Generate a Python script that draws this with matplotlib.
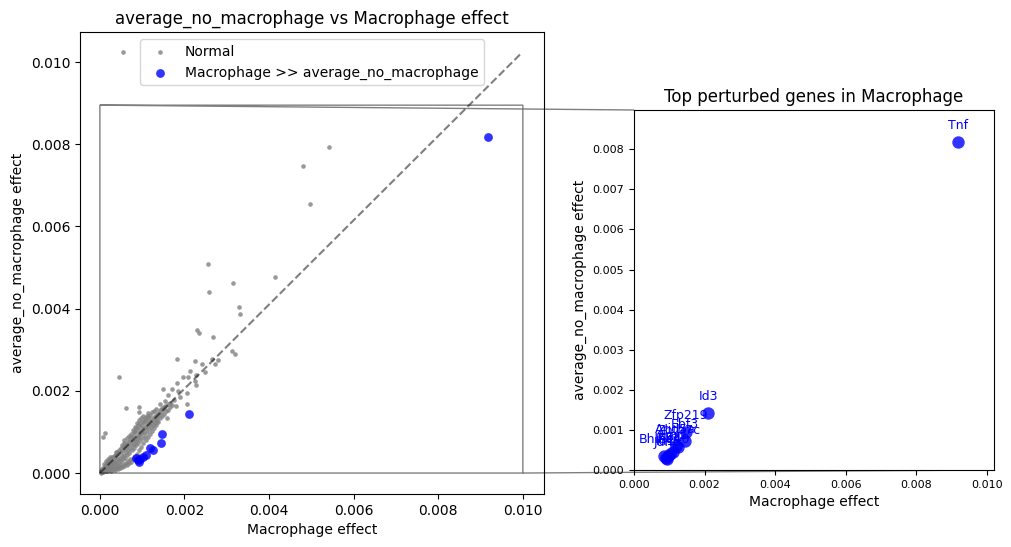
import numpy as np
import matplotlib
matplotlib.use("Agg")
import matplotlib.pyplot as plt

# genes where Macrophage effect >> average of the other cell types
hit_genes = ["Tnf", "Id3", "Zfp219", "Ebf3", "Zbtb7c", "Arid5a", "Egr2",
             "Klf4", "Ier3", "Bhlhe40", "Id1", "Junb"]
hit_x = [0.00917, 0.00210, 0.00148, 0.00145, 0.00125, 0.00118, 0.00110,
         0.00101, 0.00096, 0.00085, 0.00090, 0.00093]
hit_y = [0.00818, 0.00143, 0.00095, 0.00073, 0.00057, 0.00060, 0.00045,
         0.00039, 0.00035, 0.00036, 0.00031, 0.00028]

# everything else
normal_outliers = [
    (0.00054, 0.01024), (0.00541, 0.00793), (0.00480, 0.00747), (0.00496, 0.00655),
    (0.00255, 0.00509), (0.00258, 0.00440), (0.00314, 0.00462), (0.00414, 0.00477),
    (0.00329, 0.00404), (0.00331, 0.00387), (0.00229, 0.00348), (0.00234, 0.00341),
    (0.00267, 0.00331), (0.00312, 0.00297), (0.00319, 0.00290), (0.00182, 0.00277),
    (0.00225, 0.00272), (0.00265, 0.00277), (0.00279, 0.00275), (0.00272, 0.00265),
    (0.00241, 0.00265), (0.00045, 0.00234), (0.00213, 0.00248), (0.00196, 0.00234),
    (0.00208, 0.00234), (0.00248, 0.00246), (0.00227, 0.00238), (0.00225, 0.00224),
    (0.00227, 0.00214), (0.00182, 0.00219), (0.00149, 0.00204), (0.00170, 0.00204),
    (0.00185, 0.00200), (0.00205, 0.00195), (0.00190, 0.00185), (0.00206, 0.00168),
    (0.00061, 0.00158), (0.00092, 0.00161), (0.00093, 0.00149), (0.00012, 0.00097),
    (0.00007, 0.00088), (0.00158, 0.00135), (0.00162, 0.00190), (0.00176, 0.00178),
    (0.00166, 0.00171), (0.00179, 0.00164), (0.00155, 0.00176), (0.00143, 0.00168),
]
normal_band = [
    (0.00002, 0.00001), (0.00003, 0.00004), (0.00005, 0.00002), (0.00006, 0.00007),
    (0.00004, 0.00010), (0.00008, 0.00003), (0.00009, 0.00008), (0.00007, 0.00013),
    (0.00011, 0.00005), (0.00010, 0.00011), (0.00012, 0.00016), (0.00009, 0.00021),
    (0.00014, 0.00004), (0.00013, 0.00009), (0.00015, 0.00014), (0.00014, 0.00020),
    (0.00017, 0.00006), (0.00016, 0.00012), (0.00018, 0.00018), (0.00017, 0.00025),
    (0.00021, 0.00008), (0.00020, 0.00013), (0.00022, 0.00020), (0.00019, 0.00027),
    (0.00021, 0.00031), (0.00025, 0.00010), (0.00024, 0.00016), (0.00026, 0.00023),
    (0.00023, 0.00030), (0.00029, 0.00009), (0.00028, 0.00015), (0.00030, 0.00024),
    (0.00027, 0.00033), (0.00029, 0.00038), (0.00033, 0.00011), (0.00032, 0.00018),
    (0.00034, 0.00028), (0.00031, 0.00035), (0.00033, 0.00041), (0.00037, 0.00012),
    (0.00036, 0.00021), (0.00038, 0.00030), (0.00035, 0.00038), (0.00037, 0.00046),
    (0.00041, 0.00014), (0.00040, 0.00023), (0.00042, 0.00033), (0.00039, 0.00043),
    (0.00041, 0.00051), (0.00046, 0.00016), (0.00045, 0.00026), (0.00047, 0.00037),
    (0.00044, 0.00047), (0.00046, 0.00056), (0.00051, 0.00019), (0.00050, 0.00029),
    (0.00052, 0.00041), (0.00049, 0.00050), (0.00051, 0.00061), (0.00056, 0.00021),
    (0.00055, 0.00033), (0.00057, 0.00045), (0.00054, 0.00056), (0.00056, 0.00066),
    (0.00061, 0.00024), (0.00060, 0.00037), (0.00062, 0.00051), (0.00059, 0.00061),
    (0.00061, 0.00071), (0.00058, 0.00080), (0.00066, 0.00030), (0.00065, 0.00043),
    (0.00067, 0.00056), (0.00064, 0.00066), (0.00066, 0.00076), (0.00071, 0.00035),
    (0.00070, 0.00049), (0.00072, 0.00061), (0.00069, 0.00071), (0.00071, 0.00081),
    (0.00068, 0.00091), (0.00076, 0.00055), (0.00075, 0.00067), (0.00077, 0.00077),
    (0.00074, 0.00087), (0.00081, 0.00061), (0.00080, 0.00071), (0.00082, 0.00081),
    (0.00079, 0.00091), (0.00081, 0.00101), (0.00086, 0.00068), (0.00085, 0.00079),
    (0.00087, 0.00089), (0.00084, 0.00099), (0.00086, 0.00109), (0.00091, 0.00073),
    (0.00090, 0.00085), (0.00092, 0.00095), (0.00089, 0.00105), (0.00091, 0.00116),
    (0.00096, 0.00081), (0.00095, 0.00091), (0.00097, 0.00101), (0.00094, 0.00111),
    (0.00096, 0.00121), (0.00101, 0.00086), (0.00100, 0.00097), (0.00102, 0.00107),
    (0.00099, 0.00117), (0.00101, 0.00127), (0.00106, 0.00091), (0.00105, 0.00101),
    (0.00107, 0.00113), (0.00104, 0.00123), (0.00106, 0.00133), (0.00111, 0.00099),
    (0.00110, 0.00109), (0.00112, 0.00119), (0.00109, 0.00129), (0.00111, 0.00139),
    (0.00116, 0.00106), (0.00115, 0.00116), (0.00117, 0.00126), (0.00114, 0.00136),
    (0.00121, 0.00111), (0.00120, 0.00121), (0.00122, 0.00131), (0.00119, 0.00141),
    (0.00126, 0.00116), (0.00125, 0.00127), (0.00127, 0.00137), (0.00131, 0.00121),
    (0.00130, 0.00131), (0.00132, 0.00141), (0.00129, 0.00151), (0.00136, 0.00126),
    (0.00135, 0.00137), (0.00137, 0.00146), (0.00141, 0.00133), (0.00140, 0.00143),
    (0.00142, 0.00153), (0.00146, 0.00139), (0.00145, 0.00149), (0.00151, 0.00143),
    (0.00150, 0.00156), (0.00152, 0.00161), (0.00156, 0.00151), (0.00155, 0.00163),
    (0.00161, 0.00153), (0.00160, 0.00169), (0.00166, 0.00161), (0.00171, 0.00166),
    # extra density in the lower lobe and above the diagonal
    (0.00043, 0.00010), (0.00048, 0.00012), (0.00053, 0.00015), (0.00058, 0.00017),
    (0.00063, 0.00019), (0.00068, 0.00024), (0.00073, 0.00028), (0.00078, 0.00033),
    (0.00083, 0.00040), (0.00088, 0.00047), (0.00093, 0.00055), (0.00098, 0.00063),
    (0.00103, 0.00072), (0.00108, 0.00080), (0.00113, 0.00088), (0.00118, 0.00095),
    (0.00123, 0.00102), (0.00128, 0.00110), (0.00133, 0.00116), (0.00138, 0.00123),
    (0.00052, 0.00068), (0.00057, 0.00074), (0.00063, 0.00086), (0.00073, 0.00096),
    (0.00078, 0.00104), (0.00083, 0.00113), (0.00088, 0.00121), (0.00093, 0.00128),
    (0.00098, 0.00133), (0.00103, 0.00139), (0.00113, 0.00145), (0.00123, 0.00148),
    (0.00133, 0.00156), (0.00147, 0.00158), (0.00019, 0.00035), (0.00024, 0.00040),
    (0.00015, 0.00030), (0.00026, 0.00006), (0.00035, 0.00007), (0.00039, 0.00052),
]
normal_x = [p[0] for p in normal_outliers + normal_band]
normal_y = [p[1] for p in normal_outliers + normal_band]

diag_end = (0.00995, 0.0102)
zoom_box = (0.0, 0.0, 0.0100, 0.00895)
inset_lim = (0.0102, 0.00898)

fig = plt.figure(figsize=(10.11, 5.47), dpi=100)
ax = fig.add_axes([80 / 1011, 53 / 547, 464 / 1011, 462 / 547])

ax.scatter(normal_x, normal_y, s=11, color="gray", alpha=0.8, linewidths=0, label="Normal")
ax.scatter(hit_x, hit_y, s=40, color="blue", alpha=0.8, linewidths=0,
           label="Macrophage >> average_no_macrophage")
ax.plot([0, diag_end[0]], [0, diag_end[1]], "k--", alpha=0.5)
ax.set_xlim(-0.00047, 0.0105)
ax.set_ylim(-0.00051, 0.01073)
ax.set_xlabel("Macrophage effect")
ax.set_ylabel("average_no_macrophage effect")
ax.set_title("average_no_macrophage vs Macrophage effect")
ax.legend(loc="upper center")

# zoomed panel on the right
axins = fig.add_axes([634 / 1011, 77 / 547, 360 / 1011, 360 / 547])
axins.scatter(hit_x, hit_y, s=80, color="blue", alpha=0.8, linewidths=0)
for g, x, y in zip(hit_genes, hit_x, hit_y):
    axins.annotate(g, (x, y), textcoords="offset points", xytext=(0, 7),
                   ha="center", va="bottom", color="blue", fontsize=9)
axins.set_xlim(0, inset_lim[0])
axins.set_ylim(0, inset_lim[1])
axins.tick_params(labelsize=8)
axins.set_xlabel("Macrophage effect")
axins.set_ylabel("average_no_macrophage effect")
axins.set_title("Top perturbed genes in Macrophage")

ax.indicate_inset(zoom_box, inset_ax=axins, edgecolor="black", alpha=0.5)

fig.savefig("out.png", dpi=100)
